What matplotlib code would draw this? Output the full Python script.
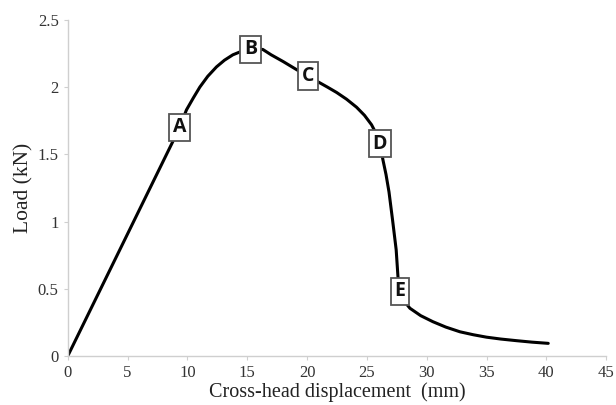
import matplotlib
matplotlib.use("Agg")
import matplotlib.pyplot as plt

# load-displacement curve
disp = [0, 9.36, 9.92, 10.5, 11.04, 11.7, 12.43, 13.1, 13.80, 14.63, 15.30,
        16.30, 17.0, 18.0, 19.12, 20.07, 20.90, 21.7, 22.47, 23.3, 24.14,
        24.8, 25.39, 25.8, 26.09, 26.34, 26.6, 26.85, 27.15, 27.45, 27.6,
        27.76, 28.1, 28.60, 29.5, 30.52, 31.6, 32.78, 33.9, 35.0, 36.2,
        37.5, 38.8, 40.16]
load = [0, 1.70, 1.83, 1.92, 2.00, 2.08, 2.15, 2.20, 2.24, 2.27, 2.28,
        2.28, 2.24, 2.19, 2.13, 2.08, 2.04, 2.00, 1.96, 1.91, 1.85,
        1.79, 1.72, 1.65, 1.58, 1.46, 1.35, 1.22, 1.01, 0.79, 0.59,
        0.48, 0.41, 0.355, 0.30, 0.255, 0.215, 0.18, 0.158, 0.14, 0.126,
        0.114, 0.103, 0.094]

# stage markers sit on curve points
stage_names = ["A", "B", "C", "D", "E"]
stage_idx = [1, 10, 15, 24, 31]

xticks = [0, 5, 10, 15, 20, 25, 30, 35, 40, 45]
yticks = [0, 0.5, 1, 1.5, 2, 2.5]
ytick_labels = ["0", "0.5", "1", "1.5", "2", "2.5"]

fig = plt.figure(figsize=(6.16, 4.05), dpi=100)
ax = fig.add_axes([0.110, 0.121, 0.874, 0.830])

ax.plot(disp, load, color="black", lw=2.2, solid_capstyle="round",
        solid_joinstyle="round", zorder=2)

for name, i in zip(stage_names, stage_idx):
    ax.text(disp[i], load[i], name, ha="center", va="center",
            fontsize=14, fontweight="bold", family="Open Sans", color="#111111",
            bbox=dict(boxstyle="square,pad=0.2", fc="white", ec="#555555", lw=1.3),
            zorder=3)

ax.set_xlim(0, 45)
ax.set_ylim(0, 2.5)
ax.set_xticks(xticks)
ax.set_yticks(yticks)
ax.set_yticklabels(ytick_labels)

for s in ["top", "right"]:
    ax.spines[s].set_visible(False)
for s in ["left", "bottom"]:
    ax.spines[s].set_color("#cfcfcf")
    ax.spines[s].set_linewidth(1.0)

ax.tick_params(axis="both", colors="#cfcfcf", labelcolor="#333333", length=3,
               labelsize=12)
for lab in ax.get_xticklabels() + ax.get_yticklabels():
    lab.set_family("Liberation Serif")

ax.set_xlabel("Cross-head displacement  (mm)", family="Liberation Serif",
              fontsize=14.5, color="#222222", labelpad=1)
ax.set_ylabel("Load (kN)", family="Liberation Serif", fontsize=15.5,
              color="#222222", labelpad=3)

fig.savefig("out.png", dpi=100)
